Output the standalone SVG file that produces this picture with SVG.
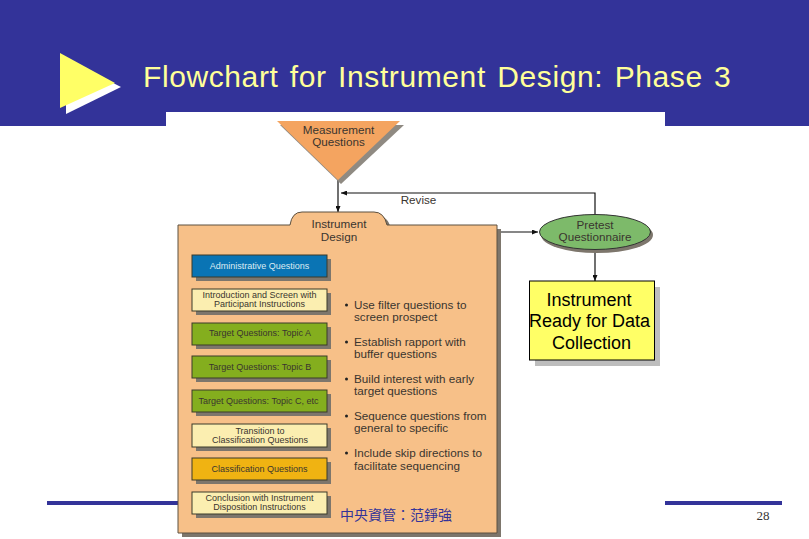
<svg xmlns="http://www.w3.org/2000/svg" width="809" height="539" viewBox="0 0 809 539">
<style>
.t{font-family:"Liberation Sans",Arial,sans-serif;font-size:11.7px;fill:#3a352f}
.m{text-anchor:middle}
.s{font-size:9px}
.w{fill:#dcebf2}
.box{stroke:#3a3a2a;stroke-width:1}
.sh{fill:#7d766c}
.c{fill:none;stroke:#111;stroke-width:1.200}
.y{fill:#fbeeb0}.g{fill:#84ae1e}
.big{font-family:"Liberation Sans",Arial,sans-serif;font-size:18px;fill:#000;text-anchor:middle}
</style>
<defs><marker id="a" markerWidth="6" markerHeight="5" refX="6" refY="2.500" orient="auto" markerUnits="userSpaceOnUse"><path d="M0 0L6 2.500L0 5Z" fill="#111"/></marker></defs>
<rect width="809" height="539" fill="#fff"/>
<g id="header">
<path d="M0 0H809V126H665V112H166V126H0Z" fill="#333399"/>
<path d="M66 59L121 87L66 114Z" fill="#fff"/>
<path d="M60 53L115 83L60 108Z" fill="#ffff66"/>
<text x="143" y="87" font-family="'Liberation Sans',Arial,sans-serif" font-size="30px" letter-spacing="0.600" word-spacing="2.500" fill="#ffff99">Flowchart for Instrument Design: Phase 3</text>
</g>
<g id="footer">
<rect x="47" y="501" width="131" height="4" fill="#333399"/>
<rect x="665" y="501" width="117" height="4" fill="#333399"/>
<text x="763" y="520" font-family="'Liberation Serif','Noto Sans CJK TC',serif" font-size="13px" fill="#333" text-anchor="middle">28</text>
</g>
<g id="connectors">
<path class="c" d="M338 180V212" marker-end="url(#a)"/>
<path class="c" d="M595 214V193H341" marker-end="url(#a)"/>
<path class="c" d="M497 232H538" marker-end="url(#a)"/>
<path class="c" d="M595 250V281" marker-end="url(#a)"/>
<text class="t m" x="418.500" y="204" font-size="11">Revise</text>
</g>
<g id="measurement-questions">
<path d="M280 125H404L341 184Z" fill="#8f8a82"/>
<path d="M277 121H400L338 180Z" fill="#f4a460"/>
<text class="t m" x="338.500" y="134">Measurement</text>
<text class="t m" x="338.500" y="146">Questions</text>
</g>
<g id="instrument-design">
<path class="sh" d="M182 229H292Q294 216 304 216H378Q388 216 391 229H501V537H182Z"/>
<path d="M178 225H290Q292 212 302 212H374Q384 212 387 225H497V533H178Z" fill="#f7c088" stroke="#5c5040" stroke-width="1"/>
<text class="t m" x="339" y="228">Instrument</text>
<text class="t m" x="339" y="241">Design</text>
</g>
<g id="administrative-questions"><rect class="sh" x="196" y="259" width="135" height="22"/><rect class="box" x="192" y="255" width="135" height="22" fill="#0a74b4"/><text class="t s w m" x="259.500" y="268.500">Administrative Questions</text></g>
<g id="introduction"><rect class="sh" x="196" y="293" width="135" height="22"/><rect class="box y" x="192" y="289" width="135" height="22"/><text class="t s m" x="259.500" y="298">Introduction and Screen with</text><text class="t s m" x="259.500" y="307">Participant Instructions</text></g>
<g id="topic-a"><rect class="sh" x="196" y="327" width="135" height="22"/><rect class="box g" x="192" y="323" width="135" height="22"/><text class="t s m" x="260" y="336">Target Questions: Topic A</text></g>
<g id="topic-b"><rect class="sh" x="196" y="360" width="135" height="22"/><rect class="box g" x="192" y="356" width="135" height="22"/><text class="t s m" x="260" y="370">Target Questions: Topic B</text></g>
<g id="topic-c"><rect class="sh" x="196" y="394" width="135" height="22"/><rect class="box g" x="192" y="390" width="135" height="22"/><text class="t s m" x="258.500" y="404">Target Questions: Topic C, etc</text></g>
<g id="transition"><rect class="sh" x="196" y="428" width="135" height="23"/><rect class="box y" x="192" y="424" width="135" height="23"/><text class="t s m" x="260" y="434">Transition to</text><text class="t s m" x="260" y="443">Classification Questions</text></g>
<g id="classification"><rect class="sh" x="196" y="462" width="135" height="22"/><rect class="box" x="192" y="458" width="135" height="22" fill="#f0b312"/><text class="t s m" x="259.500" y="472">Classification Questions</text></g>
<g id="conclusion"><rect class="sh" x="196" y="496" width="135" height="22"/><rect class="box y" x="192" y="492" width="135" height="22"/><text class="t s m" x="259.500" y="501">Conclusion with Instrument</text><text class="t s m" x="259.500" y="510">Disposition Instructions</text></g>
<g id="guidelines">
<circle cx="346.500" cy="305" r="1.500" fill="#222"/><text class="t" x="354" y="309">Use filter questions to</text><text class="t" x="354" y="321">screen prospect</text>
<circle cx="346.500" cy="342" r="1.500" fill="#222"/><text class="t" x="354" y="346">Establish rapport with</text><text class="t" x="354" y="358">buffer questions</text>
<circle cx="346.500" cy="379" r="1.500" fill="#222"/><text class="t" x="354" y="383">Build interest with early</text><text class="t" x="354" y="395">target questions</text>
<circle cx="346.500" cy="416" r="1.500" fill="#222"/><text class="t" x="354" y="420">Sequence questions from</text><text class="t" x="354" y="432">general to specific</text>
<circle cx="346.500" cy="453" r="1.500" fill="#222"/><text class="t" x="354" y="457">Include skip directions to</text><text class="t" x="354" y="470">facilitate sequencing</text>
</g>
<text x="340" y="520" font-family="'Noto Sans CJK TC','Liberation Sans',sans-serif" font-size="14px" fill="#333399">中央資管：范錚強</text>
<g id="pretest-questionnaire">
<ellipse cx="597" cy="235" rx="56" ry="18" fill="#7d766c"/>
<ellipse cx="595" cy="232" rx="55.500" ry="17.500" fill="#7dba6a" stroke="#333" stroke-width="1"/>
<text class="t m" x="595" y="229">Pretest</text>
<text class="t m" x="595" y="241">Questionnaire</text>
</g>
<g id="instrument-ready">
<rect x="535" y="287" width="125" height="79" fill="#bdbdbd"/>
<rect x="529.500" y="281" width="125" height="79" fill="#ffff66" stroke="#000" stroke-width="1"/>
<text class="big" x="589" y="305.500">Instrument</text>
<text class="big" x="589.500" y="327">Ready for Data</text>
<text class="big" x="591.500" y="348.500">Collection</text>
</g>
</svg>
